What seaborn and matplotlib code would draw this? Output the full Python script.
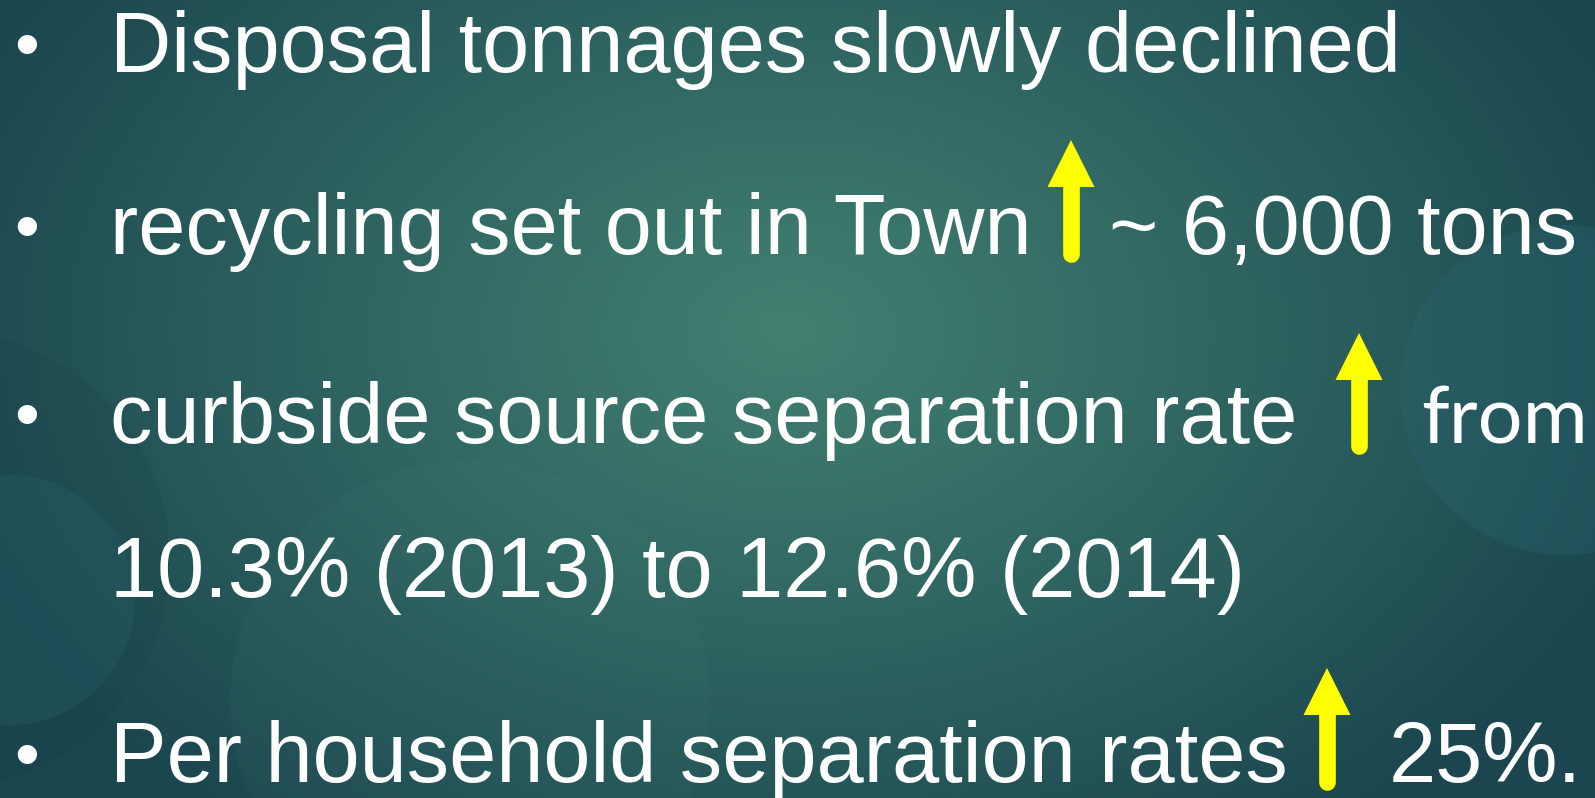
import numpy as np
import matplotlib
matplotlib.use("Agg")
import matplotlib.pyplot as plt
import seaborn as sns
from matplotlib.patches import Circle, Polygon

sns.set_theme(style="white")
plt.rcParams['font.family'] = ['Liberation Sans', 'DejaVu Sans']

W, H = 1595, 798

# slide content
bullet_lines = ["Disposal tonnages slowly declined",
                "recycling set out in Town",
                "curbside source separation rate",
                "10.3% (2013) to 12.6% (2014)",
                "Per household separation rates"]
has_bullet = [True, True, True, False, True]
baselines = [72, 254, 443, 597, 782]
tail_texts = ["", "~ 6,000 tons", "from", "", "25%."]
tail_x = [0, 1109, 1421, 0, 1389]
arrow_x = [None, 1071, 1359, None, 1327]
arrow_tip = [None, 140, 333, None, 668]
arrow_bottom = [None, 262, 454, None, 790]

fig = plt.figure(figsize=(W / 100, H / 100), dpi=100)
ax = fig.add_axes([0, 0, 1, 1])
ax.set_xlim(0, W)
ax.set_ylim(H, 0)
ax.axis("off")

# background radial gradient
yy, xx = np.mgrid[0:H, 0:W]
d = np.sqrt(((xx - 790) / 900.0) ** 2 + ((yy - 330) / 620.0) ** 2)
t = np.clip(d, 0, 1) ** 1.05
c_in = np.array([0x41, 0x80, 0x71]) / 255.0
c_out = np.array([0x1b, 0x46, 0x4f]) / 255.0
img = c_in[None, None, :] * (1 - t[..., None]) + c_out[None, None, :] * t[..., None]
ax.imshow(img, extent=[0, W, H, 0], aspect="auto", zorder=0)

# faint decorative circles
ax.add_patch(Circle((1565, 390), 165, facecolor="#2a6470", alpha=0.35, edgecolor="none", zorder=1))
ax.add_patch(Circle((10, 600), 125, facecolor="#2a6470", alpha=0.35, edgecolor="none", zorder=1))
ax.add_patch(Circle((-60, 560), 230, facecolor="#163c44", alpha=0.15, edgecolor="none", zorder=1))
ax.add_patch(Circle((470, 700), 240, facecolor="#4a8a7e", alpha=0.08, edgecolor="none", zorder=1))

fs = 61
for i, line in enumerate(bullet_lines):
    y = baselines[i]
    if has_bullet[i]:
        ax.text(14, y - 4.5, "\u2022", color="white", fontsize=51, va="baseline", ha="left", zorder=3)
    ax.text(110, y, line, color="white", fontsize=fs, va="baseline", ha="left", zorder=3)
    if tail_texts[i]:
        if tail_texts[i] == "from":
            ax.text(tail_x[i], y, tail_texts[i], color="white", fontsize=57,
                    va="baseline", ha="left", family=['Lato', 'DejaVu Sans'], zorder=3)
        else:
            ax.text(tail_x[i], y, tail_texts[i], color="white", fontsize=fs,
                    va="baseline", ha="left", zorder=3)
    if arrow_x[i] is not None:
        xa, tip, bot = arrow_x[i], arrow_tip[i], arrow_bottom[i]
        head_base = tip + 47
        hw = 23.5
        ax.add_patch(Polygon([[xa, tip], [xa - hw, head_base], [xa + hw, head_base]],
                             closed=True, facecolor="#ffff00", edgecolor="none", zorder=4))
        ax.plot([xa, xa], [head_base - 2, bot - 8], color="#ffff00", lw=12,
                solid_capstyle="round", zorder=4)

fig.savefig("out.png", dpi=100)
